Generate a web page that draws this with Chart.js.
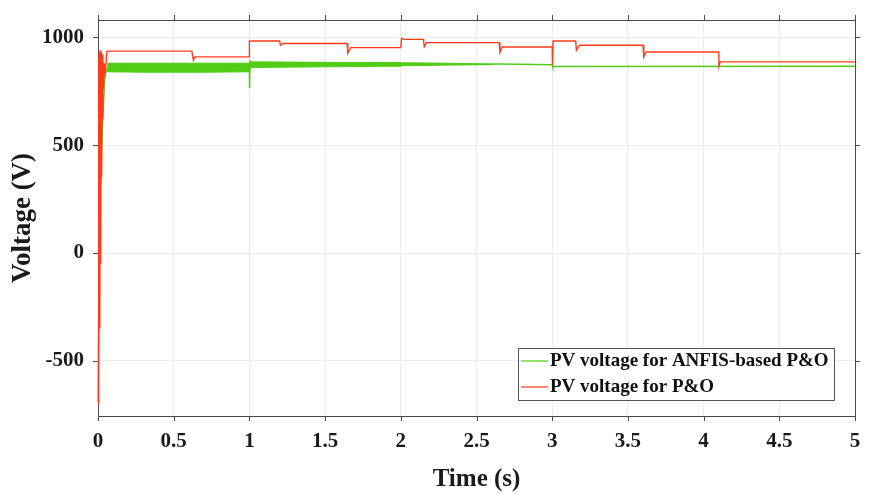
<!DOCTYPE html>
<html>
<head>
<meta charset="utf-8">
<script src="https://cdn.jsdelivr.net/npm/chart.js@4/dist/chart.umd.min.js"></script>
<style>
  html, body { margin: 0; padding: 0; background: #fff; }
  #wrap { width: 869px; height: 495px; position: relative; }
</style>
</head>
<body>
<div id="wrap"><canvas id="chart"></canvas></div>
<script>
// P&O controller: PV voltage (V) against time (s)
const poTime = [0, 0.003, 0.006, 0.009, 0.012, 0.015, 0.018, 0.021, 0.024, 0.027, 0.030,
    0.033, 0.036, 0.040, 0.047, 0.060,
    0.62, 0.63, 0.64, 1.0, 1.0, 1.2, 1.205, 1.22, 1.645, 1.65, 1.67, 2.0, 2.005, 2.02,
    2.15, 2.155, 2.17, 2.65, 2.655, 2.67, 3.0, 3.002, 3.006, 3.155, 3.16, 3.18,
    3.6, 3.605, 3.62, 4.1, 4.102, 4.11, 5.0];
const poVolt = [-700, 900, -620, 930, -350, 940, -50, 930, 350, 920, 620,
    910, 760, 880, 838, 936,
    936, 894, 909, 909, 983, 983, 963, 971, 971, 926, 952, 952, 995, 990,
    990, 956, 975, 975, 930, 955, 955, 870, 983, 983, 940, 963,
    963, 909, 932, 932, 866, 886, 886];

// ANFIS-based P&O: mean PV voltage
const anfisTime = [0, 0.01, 0.03, 0.045, 0.06, 1.0, 1.001, 1.004, 1.02, 2.0, 2.65, 3.0, 3.003, 5.0];
const anfisVolt = [-690, 200, 600, 820, 855, 855, 764, 890, 873, 873, 876, 873, 864, 866];

// ANFIS-based P&O: ripple envelope around the mean
const rippleTime = [0.06, 0.3, 0.7, 1.0, 1.01, 1.5, 2.0, 2.01, 2.3, 2.6];
const rippleHigh = [880, 880, 880, 880, 886, 884, 883, 882, 880, 875];
const rippleLow  = [840, 838, 838, 840, 860, 863, 866, 868, 871, 873];

const xTicks = [0, 0.5, 1, 1.5, 2, 2.5, 3, 3.5, 4, 4.5, 5];
const yTicks = [-500, 0, 500, 1000];

const seriesNames = ["PV voltage for ANFIS-based P&O", "PV voltage for P&O"];

const GREEN = "#52cc16";
const RED = "#ff3b1c";
const SERIF = '"Liberation Serif", "Times New Roman", serif';

const toPoints = (xs, ys) => xs.map((x, i) => ({ x: x, y: ys[i] }));

// outer box and outward tick marks on all four sides, under the traces
const framePlugin = {
    id: "frame",
    beforeDatasetsDraw(chart) {
        const { ctx, chartArea: a, scales } = chart;
        ctx.save();
        ctx.strokeStyle = "#4a4a4a";
        ctx.lineWidth = 1;
        ctx.strokeRect(a.left + 0.5, a.top + 0.5, a.right - a.left, a.bottom - a.top);
        ctx.beginPath();
        xTicks.forEach(t => {
            const px = Math.round(scales.x.getPixelForValue(t)) + 0.5;
            ctx.moveTo(px, a.bottom); ctx.lineTo(px, a.bottom + 5);
            ctx.moveTo(px, a.top); ctx.lineTo(px, a.top - 5);
        });
        yTicks.forEach(v => {
            const py = Math.round(scales.y.getPixelForValue(v)) + 0.5;
            ctx.moveTo(a.left, py); ctx.lineTo(a.left - 5, py);
            ctx.moveTo(a.right, py); ctx.lineTo(a.right + 5, py);
        });
        ctx.stroke();
        ctx.restore();
    }
};

// boxed legend in the lower right corner of the plot
const legendBoxPlugin = {
    id: "legendBox",
    afterDatasetsDraw(chart) {
        const { ctx } = chart;
        const bx = 518, by = 348, bw = 316, bh = 52;
        ctx.save();
        ctx.fillStyle = "#fff";
        ctx.fillRect(bx, by, bw, bh);
        ctx.strokeStyle = "#555";
        ctx.lineWidth = 1;
        ctx.strokeRect(bx + 0.5, by + 0.5, bw, bh);
        ctx.font = "bold 19px " + SERIF;
        ctx.textBaseline = "middle";
        const rows = [[seriesNames[0], GREEN, 361], [seriesNames[1], RED, 387]];
        rows.forEach(([label, color, y]) => {
            ctx.strokeStyle = color;
            ctx.lineWidth = 1.2;
            ctx.beginPath();
            ctx.moveTo(521, y); ctx.lineTo(548, y);
            ctx.stroke();
            ctx.fillStyle = "#111";
            ctx.fillText(label, 550, y);
        });
        ctx.restore();
    }
};

// let the start-up transient spill a pixel or two past the left edge
const edgeClip = { left: 2, top: 0, right: 0, bottom: 0 };

new Chart("chart", {
    type: "line",
    data: {
        datasets: [
            {
                label: "ripple high",
                data: toPoints(rippleTime, rippleHigh),
                borderColor: GREEN, borderWidth: 1,
                pointRadius: 0, fill: false, order: 2
            },
            {
                label: "ripple low",
                data: toPoints(rippleTime, rippleLow),
                borderColor: GREEN, borderWidth: 1, backgroundColor: GREEN,
                pointRadius: 0, fill: "-1", order: 2
            },
            {
                label: seriesNames[0],
                data: toPoints(anfisTime, anfisVolt),
                borderColor: GREEN, borderWidth: 1.5,
                pointRadius: 0, fill: false, order: 1, clip: edgeClip
            },
            {
                label: seriesNames[1],
                data: toPoints(poTime, poVolt),
                borderColor: RED, borderWidth: 1.4,
                pointRadius: 0, fill: false, order: 0, clip: edgeClip
            }
        ]
    },
    options: {
        responsive: true,
        maintainAspectRatio: false,
        animation: false,
        layout: { padding: { top: 20, right: 14, left: 0, bottom: 0 } },
        plugins: {
            legend: { display: false },
            tooltip: { enabled: false }
        },
        scales: {
            x: {
                type: "linear",
                min: 0, max: 5,
                afterBuildTicks: s => { s.ticks = xTicks.map(v => ({ value: v })); },
                afterFit: s => { s.height = 79; s.paddingLeft = 0; s.paddingRight = 0; },
                grid: { color: "#ececec", drawTicks: false },
                border: { display: false },
                ticks: {
                    padding: 13,
                    color: "#1a1a1a",
                    font: { family: SERIF, size: 21, weight: "bold" },
                    maxRotation: 0,
                    callback: v => String(v)
                },
                title: {
                    display: true,
                    text: "Time (s)",
                    color: "#1a1a1a",
                    font: { family: SERIF, size: 25, weight: "bold" },
                    padding: { top: 0, bottom: 0 }
                }
            },
            y: {
                min: -755, max: 1080,
                afterBuildTicks: s => { s.ticks = yTicks.map(v => ({ value: v })); },
                afterFit: s => { s.width = 98; s.paddingTop = 0; s.paddingBottom = 0; },
                grid: { color: "#ececec", drawTicks: false },
                border: { display: false },
                ticks: {
                    padding: 14,
                    color: "#1a1a1a",
                    font: { family: SERIF, size: 21, weight: "bold" },
                    callback: v => String(v)
                },
                title: {
                    display: true,
                    text: "Voltage (V)",
                    color: "#1a1a1a",
                    font: { family: SERIF, size: 27, weight: "bold" },
                    padding: { top: 7, bottom: 0 }
                }
            }
        }
    },
    plugins: [framePlugin, legendBoxPlugin]
});
</script>
</body>
</html>
